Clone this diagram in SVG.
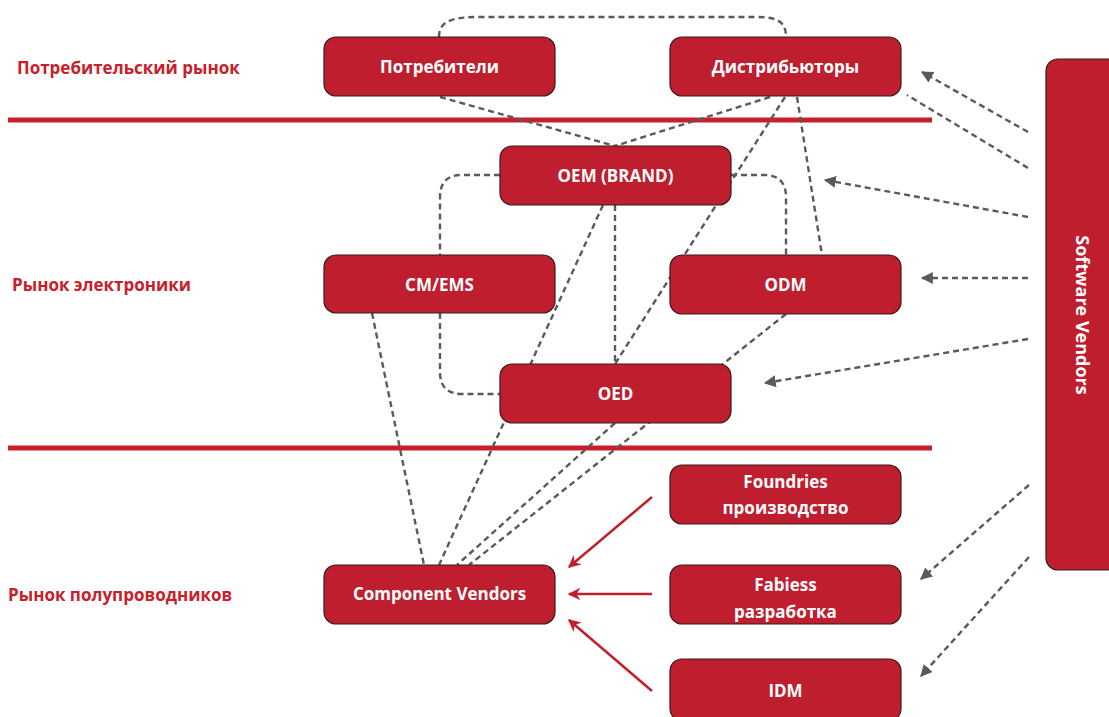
<svg xmlns="http://www.w3.org/2000/svg" width="1109" height="717" viewBox="0 0 1109 717">
<defs>
<style>
.box{fill:#be1e2d;stroke:#3a1a1a;stroke-width:1.2}
.t{fill:#fff;font-family:"Open Sans",Lato,sans-serif;font-weight:bold;font-size:17px;text-anchor:middle}
.lbl{fill:#c8202a;font-family:"Open Sans",Lato,sans-serif;font-weight:bold;font-size:17px}
.d{fill:none;stroke:#5a5a5a;stroke-width:2.4;stroke-dasharray:6 4}
.r{fill:none;stroke:#c0202a;stroke-width:2.5}
.sep{stroke:#c8202a;stroke-width:5}
</style>
<marker id="ag" viewBox="0 0 10 10" refX="9" refY="5" markerWidth="5" markerHeight="5" orient="auto" markerUnits="strokeWidth"><path d="M0,0 L10,5 L0,10 Z" fill="#5a5a5a"/></marker>
<marker id="ar" viewBox="0 0 10 10" refX="9" refY="5" markerWidth="5" markerHeight="5" orient="auto" markerUnits="strokeWidth"><path d="M0,0 L10,5 L0,10 L3,5 Z" fill="#c0202a"/></marker>
</defs>
<g id="labels">
<text class="lbl" x="17" y="74">Потребительский рынок</text>
<text class="lbl" x="12" y="291">Рынок электроники</text>
<text class="lbl" x="8" y="601">Рынок полупроводников</text>
</g>
<g id="separators">
<line class="sep" x1="8" y1="120" x2="932" y2="120"/>
<line class="sep" x1="8" y1="448" x2="932" y2="448"/>
</g>
<g id="connectors">
<path class="d" d="M439,37 C439,22 450,17 480,17 L756,17 C778,17 786,22 786,37"/>
<path class="d" d="M440,97 L615,146"/>
<path class="d" d="M770,97 L615,146"/>
<path class="d" d="M785,97 L615,364"/>
<path class="d" d="M797,97 L822,255"/>
<path class="d" d="M500,175 L462,175 Q440,175 440,197 L440,255"/>
<path class="d" d="M731,175 L764,175 Q786,175 786,197 L786,255"/>
<path class="d" d="M440,313 L440,372 Q440,394 462,394 L500,394"/>
<path class="d" d="M615,205 L615,364"/>
<path class="d" d="M603,205 L439,565"/>
<path class="d" d="M372,313 L424,565"/>
<path class="d" d="M615,423 L457,565"/>
<path class="d" d="M786,314 L469,565"/>
<path class="d" d="M1028,132 L922,72" marker-end="url(#ag)"/>
<path class="d" d="M1028,168 L907,95"/>
<path class="d" d="M1028,217 L825,180" marker-end="url(#ag)"/>
<path class="d" d="M1028,278 L922,278" marker-end="url(#ag)"/>
<path class="d" d="M1028,339 L765,383" marker-end="url(#ag)"/>
<path class="d" d="M1029,485 L921,579" marker-end="url(#ag)"/>
<path class="d" d="M1029,557 L921,676" marker-end="url(#ag)"/>
<path class="r" d="M652,497 L569,567" marker-end="url(#ar)"/>
<path class="r" d="M652,594 L569,594" marker-end="url(#ar)"/>
<path class="r" d="M652,691 L569,620" marker-end="url(#ar)"/>
</g>
<g id="consumers"><rect class="box" x="324" y="37" width="231" height="59" rx="12"/><text class="t" x="439.5" y="73">Потребители</text></g>
<g id="distributors"><rect class="box" x="670" y="37" width="231" height="59" rx="12"/><text class="t" x="785.5" y="73">Дистрибьюторы</text></g>
<g id="oem"><rect class="box" x="500" y="146" width="231" height="59" rx="12"/><text class="t" x="615.5" y="182">OEM (BRAND)</text></g>
<g id="cmems"><rect class="box" x="324" y="255" width="231" height="58" rx="12"/><text class="t" x="439.5" y="291">CM/EMS</text></g>
<g id="odm"><rect class="box" x="670" y="255" width="231" height="59" rx="12"/><text class="t" x="785.5" y="291">ODM</text></g>
<g id="oed"><rect class="box" x="500" y="364" width="231" height="59" rx="12"/><text class="t" x="615.5" y="400">OED</text></g>
<g id="foundries"><rect class="box" x="670" y="465" width="231" height="59" rx="12"/><text class="t" x="785.5" y="488">Foundries</text><text class="t" x="785.5" y="514">производство</text></g>
<g id="component-vendors"><rect class="box" x="324" y="565" width="231" height="59" rx="12"/><text class="t" x="439.5" y="600">Component Vendors</text></g>
<g id="fabless"><rect class="box" x="670" y="565" width="231" height="59" rx="12"/><text class="t" x="785.5" y="591">Fabiess</text><text class="t" x="785.5" y="618">разработка</text></g>
<g id="idm"><rect class="box" x="670" y="659" width="231" height="62" rx="12"/><text class="t" x="785.5" y="697">IDM</text></g>
<g id="software-vendors"><rect class="box" x="1046" y="59" width="80" height="511" rx="12"/><text class="t" style="font-size:18px" transform="translate(1076,315) rotate(90)" x="0" y="0">Software Vendors</text></g>
</svg>
